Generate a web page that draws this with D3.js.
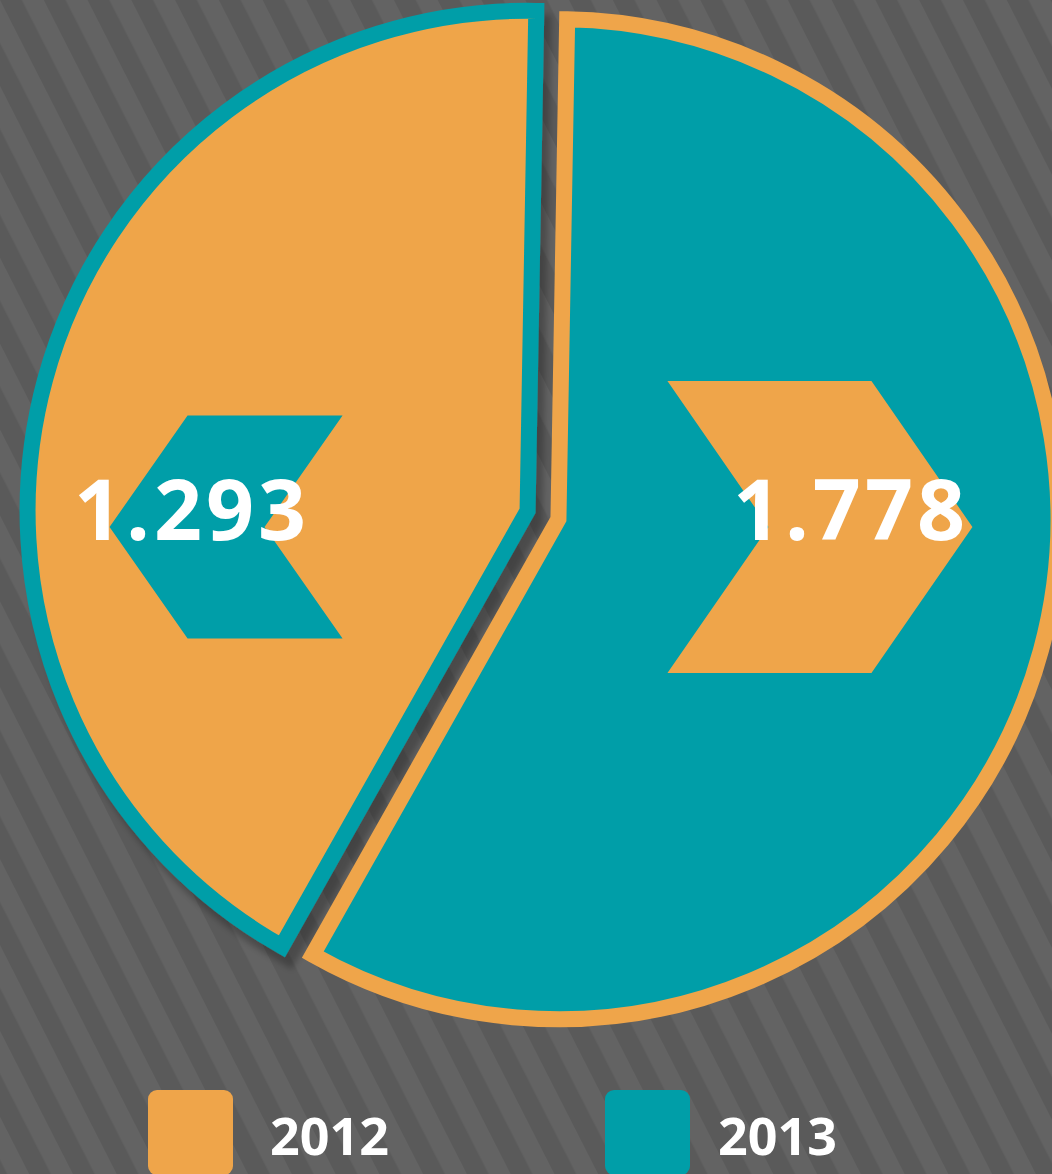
<!DOCTYPE html>
<html lang="en">
<head>
  <meta charset="UTF-8">
  <title>2012 vs 2013</title>
  <script src="https://d3js.org/d3.v7.min.js"></script>
  <style>
    html, body {
      margin: 0;
      padding: 0;
      background: #5f5f5f;
      overflow: hidden;
    }

    svg {
      display: block;
    }

    text {
      font-family: "Open Sans", sans-serif;
      font-weight: 700;
      fill: #fff;
    }
  </style>
</head>
<body>

  <svg id="chart"></svg>

  <script>
    // data
    const years = ["2012", "2013"];
    const values = [1.293, 1.778];
    const fills = ["#EFA54A", "#009EA8"];
    const outlines = ["#009EA8", "#EFA54A"];

    const width = 1052;
    const height = 1174;
    const R = 500;
    const center = [543, 515];
    const explode = 16;
    const rotate = 1 * Math.PI / 180; // where the 2013 slice starts

    // label / chevron layout, one entry per slice
    const labelK = [-0.671, 0.585];
    const chevronDx = [34, -31];
    const chevronW = [233, 305];
    const chevronH = [223, 292];
    const chevronIndent = [78, 101];

    const svg = d3.select("#chart")
      .attr("width", width)
      .attr("height", height);

    const defs = svg.append("defs");

    // diagonal stripes in the background
    const pat = defs.append("pattern")
      .attr("id", "stripes")
      .attr("patternUnits", "userSpaceOnUse")
      .attr("width", 39)
      .attr("height", 200)
      .attr("patternTransform", "rotate(-27)");
    pat.append("rect").attr("width", 39).attr("height", 200).attr("fill", "#636363");
    pat.append("rect").attr("width", 19.5).attr("height", 200).attr("fill", "#5a5a5a");

    const shadow = defs.append("filter")
      .attr("id", "shadow")
      .attr("x", "-20%").attr("y", "-20%")
      .attr("width", "140%").attr("height", "140%");
    shadow.append("feDropShadow")
      .attr("dx", 7)
      .attr("dy", 12)
      .attr("stdDeviation", 3)
      .attr("flood-color", "#000")
      .attr("flood-opacity", 0.25);

    svg.append("rect")
      .attr("width", width)
      .attr("height", height)
      .attr("fill", "url(#stripes)");

    const total = d3.sum(values);
    const start = rotate - values[0] / total * 2 * Math.PI;

    const pie = d3.pie()
      .sort(null)
      .startAngle(start)
      .endAngle(start + 2 * Math.PI);

    const arcs = pie(values);

    const arc = d3.arc()
      .innerRadius(0)
      .outerRadius(R);

    // exploded slice centres
    arcs.forEach(d => {
      const mid = (d.startAngle + d.endAngle) / 2;
      d.cx = center[0] + explode * Math.sin(mid);
      d.cy = center[1] - explode * Math.cos(mid);
    });

    const slice = svg.append("g")
      .selectAll("g")
      .data(arcs)
      .join("g")
      .attr("transform", d => `translate(${d.cx},${d.cy})`)
      .attr("filter", (d, i) => i === 0 ? "url(#shadow)" : null);

    slice.append("path")
      .attr("d", arc)
      .attr("fill", (d, i) => fills[i])
      .attr("stroke", (d, i) => outlines[i])
      .attr("stroke-width", 16)
      .attr("stroke-linejoin", "miter");

    // chevrons behind the numbers
    function chevron(i, x, y) {
      const w = chevronW[i], h = chevronH[i], d = chevronIndent[i];
      const L = x - w / 2, Rt = x + w / 2, T = y - h / 2, B = y + h / 2;
      if (i === 0) {
        return `M${L},${y}L${L + d},${T}L${Rt},${T}L${Rt - d},${y}L${Rt},${B}L${L + d},${B}Z`;
      }
      return `M${L},${T}L${Rt - d},${T}L${Rt},${y}L${Rt - d},${B}L${L},${B}L${L + d},${y}Z`;
    }

    const labelY = 540;

    svg.append("g")
      .selectAll("path")
      .data(arcs)
      .join("path")
      .attr("d", (d, i) => chevron(i, d.cx + labelK[i] * R + chevronDx[i], 527))
      .attr("fill", (d, i) => outlines[i]);

    svg.append("g")
      .selectAll("text")
      .data(arcs)
      .join("text")
      .attr("x", (d, i) => d.cx + labelK[i] * R)
      .attr("y", labelY)
      .attr("text-anchor", "middle")
      .attr("font-size", 84)
      .attr("letter-spacing", 4)
      .text(d => d3.format(".3f")(d.data));

    // legend
    const legendX = [148, 605];
    const legendTextDx = [122, 113];
    const legend = svg.append("g")
      .selectAll("g")
      .data(years)
      .join("g")
      .attr("transform", (d, i) => `translate(${legendX[i]},1090)`);

    legend.append("rect")
      .attr("width", 85)
      .attr("height", 85)
      .attr("rx", 9)
      .attr("fill", (d, i) => fills[i]);

    legend.append("text")
      .attr("x", (d, i) => legendTextDx[i])
      .attr("y", 65)
      .attr("font-size", 52)
      .text(d => d);
  </script>

</body>
</html>
